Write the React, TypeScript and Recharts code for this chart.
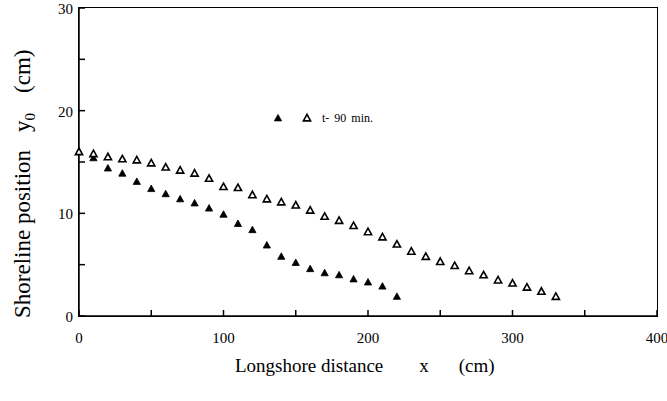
import React from 'react';
import { ScatterChart, Scatter, XAxis, YAxis } from 'recharts';

// longshore distance (cm)
const openX = [0, 10, 20, 30, 40, 50, 60, 70, 80, 90, 100, 110, 120, 130, 140, 150, 160,
  170, 180, 190, 200, 210, 220, 230, 240, 250, 260, 270, 280, 290, 300, 310, 320, 330];
// shoreline position y0 (cm), open triangles
const openY = [16.0, 15.8, 15.5, 15.3, 15.2, 14.9, 14.5, 14.2, 13.9, 13.4, 12.6, 12.5, 11.8,
  11.4, 11.1, 10.8, 10.3, 9.7, 9.3, 8.8, 8.2, 7.7, 7.0, 6.3, 5.8, 5.3, 4.9, 4.4, 4.0, 3.5,
  3.2, 2.8, 2.4, 1.9];

const filledX = [0, 10, 20, 30, 40, 50, 60, 70, 80, 90, 100, 110, 120, 130, 140, 150, 160,
  170, 180, 190, 200, 210, 220];
// shoreline position y0 (cm), filled triangles
const filledY = [16.0, 15.4, 14.4, 13.9, 13.1, 12.4, 11.9, 11.4, 11.0, 10.5, 9.9, 9.0, 8.4,
  6.9, 5.8, 5.2, 4.6, 4.2, 4.0, 3.6, 3.3, 2.9, 1.9];

const xTicks = [0, 50, 100, 150, 200, 250, 300, 350, 400];
const yTicks = [0, 5, 10, 15, 20, 25, 30];
const legendText = 't- 90 min.';

const FONT = 'Liberation Serif';
const INK = 'black';

const openData = openX.map((x, i) => ({ x, y: openY[i] }));
const filledData = filledX.map((x, i) => ({ x, y: filledY[i] }));

const Tri = ({ cx, cy, filled }: any) => {
  const s = 3.6;
  const pts = `${cx},${cy - s} ${cx - s},${cy + s * 0.8} ${cx + s},${cy + s * 0.8}`;
  return (
    <polygon
      points={pts}
      fill={filled ? INK : 'white'}
      stroke={INK}
      strokeWidth={filled ? 0.8 : 1.6}
    />
  );
};

// inward tick mark + label; tickSize 0, tickMargin 4
const XTick = ({ x, y, payload }: any) => {
  const axisY = y - 4;
  const major = payload.value % 100 === 0;
  return (
    <g>
      <line x1={x} x2={x} y1={axisY} y2={axisY - 6} stroke={INK} strokeWidth={1.5} />
      {major && (
        <text x={x} y={axisY + 27} textAnchor="middle" fontFamily={FONT} fontSize={15} fill={INK}>
          {payload.value}
        </text>
      )}
    </g>
  );
};

const YTick = ({ x, y, payload }: any) => {
  const axisX = x + 4;
  const major = payload.value % 10 === 0;
  return (
    <g>
      <line x1={axisX} x2={axisX + 6} y1={y} y2={y} stroke={INK} strokeWidth={1.5} />
      {major && (
        <text x={axisX - 6} y={y + 6} textAnchor="end" fontFamily={FONT} fontSize={15} fill={INK}>
          {payload.value}
        </text>
      )}
    </g>
  );
};

const YLabel = ({ viewBox }: any) => {
  const cx = 30;
  const cy = viewBox.y + viewBox.height + 2;
  return (
    <text
      x={cx}
      y={cy}
      transform={`rotate(-90, ${cx}, ${cy})`}
      textAnchor="start"
      fontFamily={FONT}
      fontSize={23}
      fill={INK}
    >
      Shoreline position
      <tspan dx={18}>y</tspan>
      <tspan fontSize={15} dy={5}>0</tspan>
      <tspan dy={-5} dx={20}>(cm)</tspan>
    </text>
  );
};

const XLabel = ({ viewBox }: any) => {
  const x0 = 235;
  const y0 = viewBox.y + viewBox.height + 26;
  return (
    <text x={x0} y={y0} fontFamily={FONT} fontSize={19} fill={INK}>
      Longshore distance
      <tspan dx={36}>x</tspan>
      <tspan dx={30}>(cm)</tspan>
    </text>
  );
};

const LegendBox = () => (
  <svg width={130} height={20} style={{ display: 'block' }}>
    <Tri cx={7} cy={10} filled />
    <Tri cx={36} cy={10} filled={false} />
    <text x={51} y={14} fontFamily={FONT} fontSize={12} fill={INK} wordSpacing={2}>
      {legendText}
    </text>
  </svg>
);

const App: React.FC = () => {
  return (
    <div style={{ position: 'absolute', left: 0, top: 0, width: 667, height: 401, background: 'white' }}>
      {/* plot frame (HTML border, behind the chart) */}
      <div
        style={{
          position: 'absolute',
          left: 78,
          top: 7,
          width: 580,
          height: 310,
          border: '1.5px solid black',
          boxSizing: 'border-box',
        }}
      />
      <div style={{ position: 'absolute', left: 0, top: 0 }}>
        <ScatterChart
          width={667}
          height={401}
          margin={{ top: 8, right: 10, left: 49, bottom: 55 }}
        >
          <XAxis
            type="number"
            dataKey="x"
            domain={[0, 400]}
            ticks={xTicks}
            interval={0}
            tickSize={0}
            tickMargin={4}
            tickLine={false}
            tick={<XTick />}
            axisLine={{ stroke: INK, strokeWidth: 1.5 }}
            height={30}
            label={<XLabel />}
          />
          <YAxis
            type="number"
            dataKey="y"
            domain={[0, 30]}
            ticks={yTicks}
            interval={0}
            tickSize={0}
            tickMargin={4}
            tickLine={false}
            tick={<YTick />}
            axisLine={{ stroke: INK, strokeWidth: 1.5 }}
            width={30}
            label={<YLabel />}
          />
          <Scatter
            name="filled"
            data={filledData}
            shape={(p: any) => <Tri cx={p.cx} cy={p.cy} filled />}
            isAnimationActive={false}
          />
          <Scatter
            name="open"
            data={openData}
            shape={(p: any) => <Tri cx={p.cx} cy={p.cy} filled={false} />}
            isAnimationActive={false}
          />
        </ScatterChart>
      </div>
      <div style={{ position: 'absolute', left: 271, top: 108 }}>
        <LegendBox />
      </div>
    </div>
  );
};

export default App;
